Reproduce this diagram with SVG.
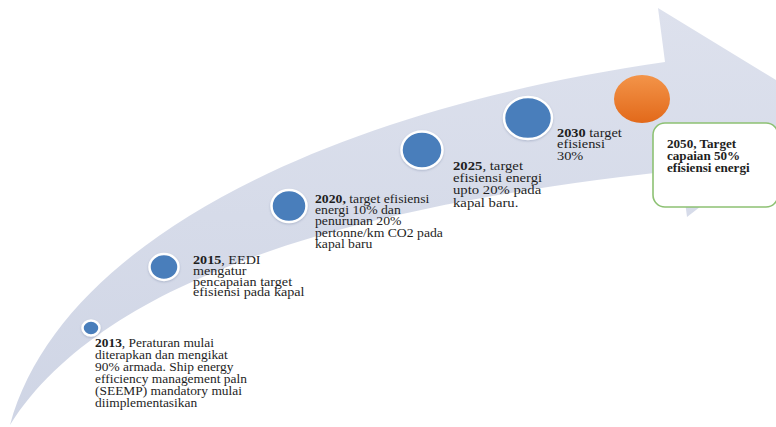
<svg xmlns="http://www.w3.org/2000/svg" width="776" height="427" viewBox="0 0 776 427">
  <defs>
    <linearGradient id="arrowFill" x1="0" y1="0" x2="0" y2="1">
      <stop offset="0" stop-color="#dde1ed"/>
      <stop offset="1" stop-color="#cfd5e5"/>
    </linearGradient>
    <linearGradient id="orangeFill" x1="0" y1="0" x2="0" y2="1">
      <stop offset="0" stop-color="#f39449"/>
      <stop offset="1" stop-color="#e2691a"/>
    </linearGradient>
    <filter id="soft" x="-20%" y="-20%" width="140%" height="140%">
      <feDropShadow dx="0" dy="1" stdDeviation="1" flood-color="#7a8aa8" flood-opacity="0.45"/>
    </filter>
  </defs>
  <style>
    .dot { fill: #4a7ebb; stroke: #ffffff; stroke-width: 2.5; filter: url(#soft); }
    .lbl { font-family: "Liberation Serif", "Times New Roman", serif; fill: #1e1e1e; }
    .yr { font-weight: bold; }
    .box { fill: #ffffff; stroke: #8dc173; stroke-width: 1.6; }
  </style>
  <rect width="776" height="427" fill="#ffffff"/>

  <g id="connectors">
    <path id="arrow" fill="url(#arrowFill)" d="M10,425 C60,240 330,110 665,62 L658,8 L825,110 L687,217 L681,170 C450,195 120,250 10,425 Z"/>
  </g>

  <g id="node-2013">
    <ellipse class="dot" cx="91" cy="328" rx="8.5" ry="7.5"/>
    <text class="lbl" font-size="12" transform="translate(95,347) scale(1.12,1)">
      <tspan x="0" y="0"><tspan class="yr">2013</tspan>, Peraturan mulai</tspan>
      <tspan x="0" y="12">diterapkan dan mengikat</tspan>
      <tspan x="0" y="24">90% armada. Ship energy</tspan>
      <tspan x="0" y="36">efficiency management paln</tspan>
      <tspan x="0" y="48">(SEEMP) mandatory mulai</tspan>
      <tspan x="0" y="60">diimplementasikan</tspan>
    </text>
  </g>

  <g id="node-2015">
    <ellipse class="dot" cx="164" cy="267" rx="14.5" ry="13"/>
    <text class="lbl" font-size="12" transform="translate(193,264) scale(1.18,1)">
      <tspan x="0" y="0"><tspan class="yr">2015</tspan>, EEDI</tspan>
      <tspan x="0" y="10.8">mengatur</tspan>
      <tspan x="0" y="21.6">pencapaian target</tspan>
      <tspan x="0" y="32.4">efisiensi pada kapal</tspan>
    </text>
  </g>

  <g id="node-2020">
    <ellipse class="dot" cx="289" cy="206" rx="17.5" ry="16"/>
    <text class="lbl" font-size="12.6" transform="translate(315,203) scale(1.09,1)">
      <tspan x="0" y="0"><tspan class="yr">2020,</tspan> target efisiensi</tspan>
      <tspan x="0" y="11.3">energi 10% dan</tspan>
      <tspan x="0" y="22.5">penurunan 20%</tspan>
      <tspan x="0" y="33.8">pertonne/km CO2 pada</tspan>
      <tspan x="0" y="45">kapal baru</tspan>
    </text>
  </g>

  <g id="node-2025">
    <ellipse class="dot" cx="422" cy="150" rx="20.5" ry="18.5"/>
    <text class="lbl" font-size="12.8" transform="translate(453,170) scale(1.15,1)">
      <tspan x="0" y="0"><tspan class="yr">2025</tspan>, target</tspan>
      <tspan x="0" y="12.3">efisiensi energi</tspan>
      <tspan x="0" y="24.5">upto 20% pada</tspan>
      <tspan x="0" y="36.8">kapal baru.</tspan>
    </text>
  </g>

  <g id="node-2030">
    <ellipse class="dot" cx="528" cy="118" rx="24" ry="21"/>
    <text class="lbl" font-size="12.5" transform="translate(557,137) scale(1.15,1)">
      <tspan x="0" y="0"><tspan class="yr">2030</tspan> target</tspan>
      <tspan x="0" y="11.5">efisiensi</tspan>
      <tspan x="0" y="23">30%</tspan>
    </text>
  </g>

  <g id="node-2050">
    <ellipse cx="642" cy="99" rx="28" ry="24" fill="url(#orangeFill)"/>
    <rect class="box" x="653" y="123" width="125" height="84" rx="12" ry="12"/>
    <text class="lbl yr" font-size="12.5" transform="translate(667,148) scale(1.05,1)">
      <tspan x="0" y="0">2050, Target</tspan>
      <tspan x="0" y="12.3">capaian 50%</tspan>
      <tspan x="0" y="24.5">efisiensi energi</tspan>
    </text>
  </g>
</svg>
